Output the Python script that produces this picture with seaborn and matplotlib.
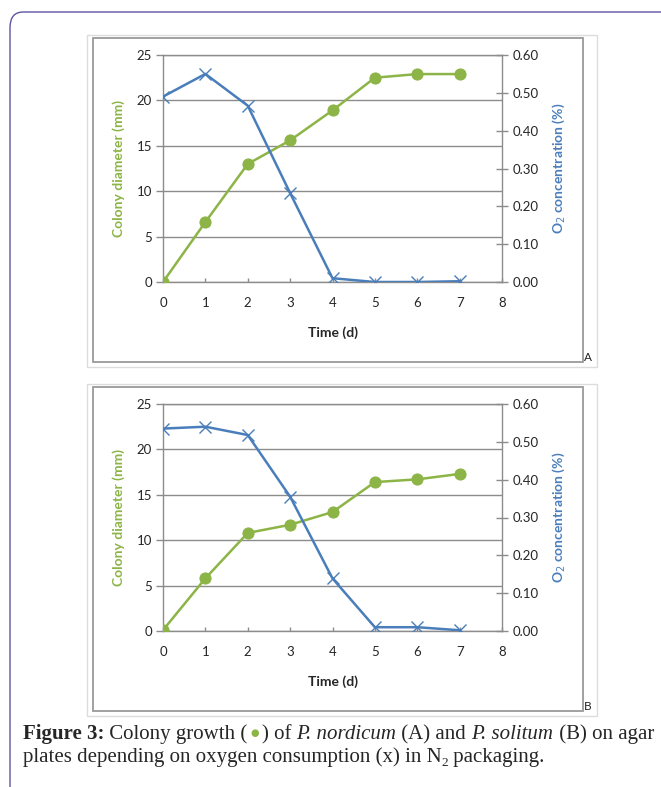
import matplotlib
matplotlib.use("Agg")
import matplotlib.pyplot as plt
import seaborn as sns
import pandas as pd
from matplotlib.patches import FancyBboxPatch, Rectangle
from matplotlib.ticker import FormatStrFormatter

# ---------------- data ----------------
time_days = [0, 1, 2, 3, 4, 5, 6, 7]
diameter_A = [0.0, 6.6, 13.0, 15.6, 18.9, 22.5, 22.9, 22.9]
oxygen_A = [0.49, 0.55, 0.466, 0.235, 0.01, 0.0, 0.0, 0.002]
diameter_B = [0.1, 5.8, 10.8, 11.7, 13.1, 16.4, 16.7, 17.3]
oxygen_B = [0.535, 0.54, 0.518, 0.355, 0.139, 0.01, 0.01, 0.002]
panel_labels = ["A", "B"]
left_ticks = [0, 5, 10, 15, 20, 25]
right_ticks = [0.0, 0.1, 0.2, 0.3, 0.4, 0.5, 0.6]
x_ticks = [0, 1, 2, 3, 4, 5, 6, 7, 8]

sns.set_style("white")
plt.rcParams["font.family"] = ["Lato", "DejaVu Sans"]

GREEN = "#8cb446"
BLUE = "#4a7ebb"
GRID = "#8c8c8c"
TICKC = "#262626"
TFS = 9.5   # tick font size
LFS = 10    # axis label font size

W, H = 661, 787
fig = plt.figure(figsize=(W / 100, H / 100), dpi=100)


def fx(px):
    return px / W


def fy(py):
    return 1 - py / H


# page rounded border
border = FancyBboxPatch((fx(10), fy(900)), fx(700), fy(12) - fy(900),
                        boxstyle="round,pad=0,rounding_size=0.02",
                        transform=fig.transFigure, fill=False,
                        edgecolor="#5d55a3", linewidth=1.0, clip_on=False)
fig.patches.append(border)


def draw_panel(top_px, diam, oxy, label):
    outer_top = top_px - 20
    fig.patches.append(Rectangle((fx(87), fy(outer_top + 332)), fx(510), fy(outer_top) - fy(outer_top + 332),
                                 transform=fig.transFigure, fill=False,
                                 edgecolor="#dcdcdc", linewidth=1.0))
    fig.patches.append(Rectangle((fx(93), fy(outer_top + 327)), fx(490), fy(outer_top + 3) - fy(outer_top + 327),
                                 transform=fig.transFigure, fill=False,
                                 edgecolor="#9a9a9a", linewidth=1.3))
    fig.text(fx(584), fy(outer_top + 328), label, fontsize=8.5, ha="left", va="bottom",
             color="#222222")

    ax = fig.add_axes([fx(163), fy(top_px + 227), fx(339), fy(top_px) - fy(top_px + 227)])
    df = pd.DataFrame({"time": time_days, "diam": diam, "oxy": oxy})
    sns.lineplot(data=df, x="time", y="diam", ax=ax, color=GREEN, linewidth=1.8,
                 marker="o", markersize=8, markeredgecolor=GREEN, zorder=3)
    ax.set_xlim(0, 8)
    ax.set_ylim(0, 25)
    ax.set_xticks(x_ticks)
    ax.set_yticks(left_ticks)
    ax.yaxis.grid(True, color=GRID, linewidth=1.0)
    ax.xaxis.grid(False)
    for s in ax.spines.values():
        s.set_color(GRID)
        s.set_linewidth(1.0)
    ax.tick_params(axis="y", direction="out", length=5, width=1, color=GRID,
                   labelsize=TFS, labelcolor=TICKC, pad=3, left=True)
    ax.tick_params(axis="x", direction="in", length=3, width=1, color=GRID,
                   labelsize=TFS, labelcolor=TICKC, pad=11, bottom=True)
    ax.set_xlabel("Time (d)", fontsize=LFS, fontweight="bold", color=TICKC, labelpad=12)
    ax.set_ylabel("Colony diameter (mm)", fontsize=LFS, fontweight="bold", color=GREEN, labelpad=8)
    ax.set_facecolor("none")

    ax2 = ax.twinx()
    sns.lineplot(data=df, x="time", y="oxy", ax=ax2, color=BLUE, linewidth=1.8,
                 marker="x", markersize=8, markeredgewidth=1.0, markeredgecolor=BLUE, zorder=4)
    ax2.set_ylim(0, 0.6)
    ax2.set_yticks(right_ticks)
    ax2.yaxis.set_major_formatter(FormatStrFormatter("%.2f"))
    ax2.grid(False)
    for s in ax2.spines.values():
        s.set_visible(False)
    ax2.tick_params(axis="y", direction="inout", length=8, width=1, color=GRID,
                    labelsize=TFS, labelcolor=TICKC, pad=4, right=True)
    ax2.set_ylabel("O$_2$ concentration (%)", fontsize=LFS, fontweight="bold", color=BLUE,
                   labelpad=8)
    ax2.set_xlabel("")


draw_panel(55, diameter_A, oxygen_A, panel_labels[0])
draw_panel(404, diameter_B, oxygen_B, panel_labels[1])

# ---------------- caption ----------------
renderer = fig.canvas.get_renderer()
SERIF = ["Liberation Serif", "DejaVu Serif"]
CAP = 15


def width_of(s, size=CAP, **kw):
    t1 = fig.text(0, 0, s + "|", fontsize=size, family=SERIF, **kw)
    t2 = fig.text(0, 0, "|", fontsize=size, family=SERIF, **kw)
    w = t1.get_window_extent(renderer).width - t2.get_window_extent(renderer).width
    t1.remove()
    t2.remove()
    return w


line1 = [("Figure 3:", dict(fontweight="bold")),
         (" Colony growth (", {}),
         ("DOT", {}),
         (") of ", {}),
         ("P. nordicum", dict(style="italic")),
         (" (A) and ", {}),
         ("P. solitum", dict(style="italic")),
         (" (B) on agar", {})]

x = 23
for s, kw in line1:
    if s == "DOT":
        fig.text(fx(x + 7), fy(733), "\u25CF", fontsize=7, family=["DejaVu Sans"], color=GREEN,
                 va="center", ha="center")
        x += 14
        continue
    fig.text(fx(x), fy(739), s, fontsize=CAP, family=SERIF, va="baseline", ha="left", **kw)
    x += width_of(s, **kw)

text2a = "plates depending on oxygen consumption (x) in N"
x = 23
fig.text(fx(x), fy(762), text2a, fontsize=CAP, family=SERIF, va="baseline", ha="left")
x += width_of(text2a)
fig.text(fx(x), fy(766), "2", fontsize=9.5, family=SERIF, va="baseline", ha="left")
x += width_of("2", size=9.5)
fig.text(fx(x), fy(762), " packaging.", fontsize=CAP, family=SERIF, va="baseline", ha="left")

fig.savefig("out.png", dpi=100)
